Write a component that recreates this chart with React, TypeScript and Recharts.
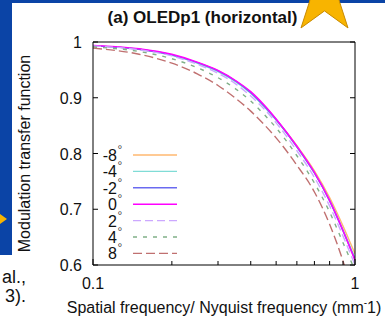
import React from 'react';
import { LineChart, Line, XAxis, YAxis, Legend } from 'recharts';

// spatial frequency / Nyquist (log axis)
const freqs = [0.1, 0.15, 0.2, 0.25, 0.3, 0.35, 0.4, 0.45, 0.5, 0.6, 0.7, 0.8, 0.9, 1.0];

// MTF per viewing angle
const mtfM8 = [0.993, 0.987, 0.977, 0.963, 0.948, 0.93, 0.91, 0.886, 0.861, 0.814, 0.769, 0.721, 0.67, 0.62];
const mtfM4 = [0.993, 0.987, 0.976, 0.962, 0.947, 0.929, 0.908, 0.884, 0.86, 0.812, 0.765, 0.716, 0.663, 0.612];
const mtfM2 = [0.993, 0.987, 0.977, 0.963, 0.948, 0.93, 0.909, 0.885, 0.861, 0.812, 0.765, 0.715, 0.661, 0.61];
const mtf0 = [0.994, 0.988, 0.978, 0.964, 0.949, 0.931, 0.911, 0.887, 0.862, 0.813, 0.766, 0.716, 0.662, 0.608];
const mtfP2 = [0.993, 0.986, 0.975, 0.96, 0.944, 0.925, 0.903, 0.88, 0.855, 0.805, 0.757, 0.706, 0.652, 0.6];
const mtfP4 = [0.991, 0.983, 0.97, 0.954, 0.936, 0.916, 0.894, 0.87, 0.846, 0.796, 0.747, 0.695, 0.64, 0.59];
const mtfP8 = [0.989, 0.978, 0.962, 0.943, 0.922, 0.899, 0.876, 0.852, 0.828, 0.779, 0.731, 0.673, 0.607, 0.535];

const xTicks = [0.1, 0.2, 0.3, 0.4, 0.5, 0.6, 0.7, 0.8, 0.9, 1];
const xLabels = [0.1, 1];
const yTicks = [0.6, 0.7, 0.8, 0.9, 1];

const series = [
  { key: 'm8', label: '-8', values: mtfM8, color: '#ffb870', dash: undefined },
  { key: 'm4', label: '-4', values: mtfM4, color: '#80dcd6', dash: undefined },
  { key: 'm2', label: '-2', values: mtfM2, color: '#6a6af0', dash: undefined },
  { key: 'p0', label: '0', values: mtf0, color: '#ff00ff', dash: undefined },
  { key: 'p2', label: '2', values: mtfP2, color: '#cca8ff', dash: '8 4' },
  { key: 'p4', label: '4', values: mtfP4, color: '#80b088', dash: '4 6' },
  { key: 'p8', label: '8', values: mtfP8, color: '#c07070', dash: '9 4' },
];

const data = freqs.map((f, i) => {
  const row: any = { f };
  series.forEach((s) => (row[s.key] = s.values[i]));
  return row;
});

const FONT = '"Liberation Sans", Arial, sans-serif';
const BLUE = '#0b44a6';

const BottomTick = (props: any) => {
  const { x, y, payload } = props;
  const major = xLabels.includes(payload.value);
  return (
    <g>
      <line x1={x} y1={y} x2={x} y2={y - (major ? 6 : 4)} stroke="#000" />
      {major && (
        <text x={x} y={y + 24} textAnchor="middle" fontSize={16} fill="#111">
          {payload.value}
        </text>
      )}
    </g>
  );
};

const TopTick = (props: any) => {
  const { x, y, payload } = props;
  const major = xLabels.includes(payload.value);
  return <line x1={x} y1={y} x2={x} y2={y + (major ? 6 : 4)} stroke="#000" />;
};

const LeftTick = (props: any) => {
  const { x, y, payload } = props;
  return (
    <g>
      <line x1={x} y1={y} x2={x + 5} y2={y} stroke="#000" />
      <text x={x - 11} y={y + 6} textAnchor="end" fontSize={16} fill="#111">
        {payload.value}
      </text>
    </g>
  );
};

const RightTick = (props: any) => {
  const { x, y } = props;
  return <line x1={x} y1={y} x2={x - 5} y2={y} stroke="#000" />;
};

const XTitle = (props: any) => {
  const vb = props.viewBox || { x: 93, width: 262 };
  return (
    <text x={vb.x + vb.width / 2} y={313} textAnchor="middle" fontSize={16} fill="#111">
      Spatial frequency/ Nyquist frequency (mm
      <tspan fontSize={10} dy={-7}>-</tspan>
      <tspan dy={7}>1)</tspan>
    </text>
  );
};

const renderLegend = (props: any) => {
  const entries = [...(props.payload || [])].sort(
    (a: any, b: any) =>
      series.findIndex((s) => s.key === a.dataKey) - series.findIndex((s) => s.key === b.dataKey)
  );
  return (
    <svg width={90} height={118} style={{ overflow: 'visible', fontFamily: FONT }}>
      {entries.map((entry: any, i: number) => {
        const s = series.find((d) => d.key === entry.dataKey)!;
        const y = 10 + i * 16.4;
        return (
          <g key={s.key}>
            <text x={22} y={y + 6} textAnchor="end" fontSize={16} fill="#111">
              {s.label}
            </text>
            <text x={22.5} y={y - 1} fontSize={12} fill="#444">
              °
            </text>
            <line x1={38} x2={82} y1={y} y2={y} stroke={entry.color} strokeWidth={1.4} strokeDasharray={s.dash} />
          </g>
        );
      })}
    </svg>
  );
};

const starPoints = () => {
  const cx = 324.5;
  const cy = -4.4;
  const pts: string[] = [];
  for (let k = 0; k < 10; k++) {
    const a = ((-90 + 36 * k) * Math.PI) / 180;
    const r = k % 2 === 0 ? 40 : 15.3;
    pts.push(`${cx + r * Math.cos(a)},${cy + r * Math.sin(a)}`);
  }
  return pts.join(' ');
};

export default function App() {
  return (
    <div style={{ position: 'absolute', left: 0, top: 0, width: 385, height: 324, background: '#fff', fontFamily: FONT }}>
      <svg width={385} height={324} style={{ position: 'absolute', left: 0, top: 0 }}>
        <rect x={0} y={0} width={385} height={3} fill={BLUE} />
        <rect x={0} y={0} width={12} height={255} fill={BLUE} />
        <polygon points="0,214 7,219 0,224" fill="#f8b400" />
        <polygon points={starPoints()} fill="#f8b400" stroke="#c88a00" strokeWidth={1} />
        <text x={202.5} y={23} textAnchor="middle" fontWeight="bold" fontSize={17} fill="#111">
          (a) OLEDp1 (horizontal)
        </text>
        <text x={26} y={283} textAnchor="end" fontSize={18} fill="#111">
          al.,
        </text>
        <text x={26} y={302} textAnchor="end" fontSize={18} fill="#111">
          3).
        </text>
      </svg>
      <div style={{ position: 'absolute', left: 0, top: 0 }}>
        <LineChart width={385} height={324} data={data} margin={{ top: 0, right: 0, bottom: 0, left: 0 }}>
          <XAxis
            xAxisId="b"
            dataKey="f"
            type="number"
            scale="log"
            domain={[0.1, 1]}
            allowDataOverflow
            ticks={xTicks}
            interval={0}
            tickSize={0}
            tickMargin={0}
            tickLine={false}
            tick={BottomTick}
            axisLine={{ stroke: '#000' }}
            height={59}
            label={XTitle}
          />
          <XAxis
            xAxisId="t"
            orientation="top"
            type="number"
            scale="log"
            domain={[0.1, 1]}
            allowDataOverflow
            ticks={xTicks}
            interval={0}
            tickSize={0}
            tickMargin={0}
            tickLine={false}
            tick={TopTick}
            axisLine={{ stroke: '#000' }}
            height={42}
          />
          <YAxis
            yAxisId="l"
            type="number"
            domain={[0.6, 1]}
            allowDataOverflow
            ticks={yTicks}
            interval={0}
            tickSize={0}
            tickMargin={0}
            tickLine={false}
            tick={LeftTick}
            axisLine={{ stroke: '#000' }}
            width={93}
            label={{
              value: 'Modulation transfer function',
              angle: -90,
              position: 'insideLeft',
              offset: 24,
              fontSize: 16,
              fill: '#111',
              style: { textAnchor: 'middle' },
            }}
          />
          <YAxis
            yAxisId="r"
            orientation="right"
            type="number"
            domain={[0.6, 1]}
            allowDataOverflow
            ticks={yTicks}
            interval={0}
            tickSize={0}
            tickMargin={0}
            tickLine={false}
            tick={RightTick}
            axisLine={{ stroke: '#000' }}
            width={30}
          />
          <Legend
            layout="vertical"
            align="center"
            verticalAlign="middle"
            content={renderLegend}
            wrapperStyle={{ left: 95, top: 145, width: 90, height: 118 }}
          />
          {series.map((s) => (
            <Line
              key={s.key}
              xAxisId="b"
              yAxisId="l"
              dataKey={s.key}
              name={s.label}
              type="monotone"
              stroke={s.color}
              strokeWidth={1.4}
              strokeDasharray={s.dash}
              dot={false}
              isAnimationActive={false}
            />
          ))}
        </LineChart>
      </div>
    </div>
  );
}
